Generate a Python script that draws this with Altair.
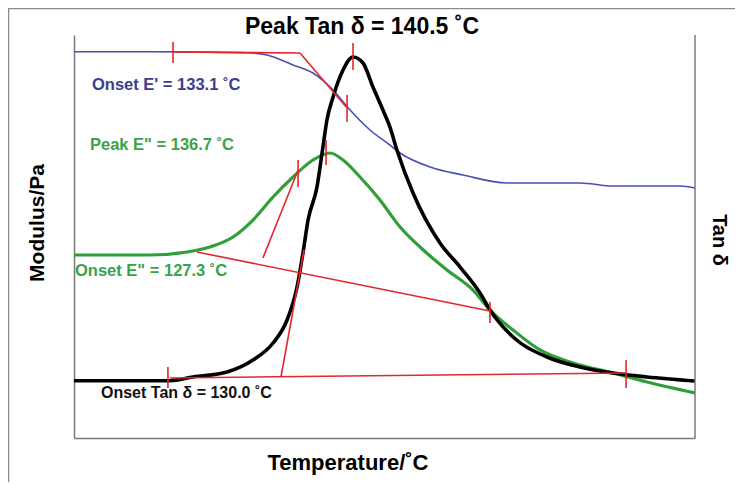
import altair as alt
import pandas as pd

# ---------------- data ----------------
# Temperature (deg C) and signal in arbitrary units (0-100)
eprime_T = [124.5, 128.84, 131.70, 134.39, 135.53, 137.02, 138.16, 139.31, 140.28,
            141.42, 142.56, 143.14, 144.85, 146.74, 149.25, 153.43, 155.31, 159.14, 160.0]
eprime_Y = [95.86, 95.86, 95.78, 95.6, 95.04, 92.56, 90.57, 86.35, 81.39,
            76.43, 72.70, 70.72, 67.25, 65.26, 63.28, 63.28, 62.53, 62.53, 62.03]

edouble_T = [124.5, 128.84, 130.96, 132.27, 133.59, 134.73, 135.88, 137.02, 138.16,
             139.13, 139.88, 140.85, 141.99, 143.14, 144.28, 145.82, 147.31, 148.28,
             149.60, 151.14, 153.03, 155.31, 157.26, 160.0]
edouble_Y = [45.41, 45.41, 46.15, 47.39, 49.88, 54.09, 59.80, 64.76, 68.98,
             70.72, 68.98, 64.76, 59.06, 52.36, 47.39, 41.69, 36.72, 31.76,
             26.80, 21.84, 18.61, 16.13, 13.90, 11.17]

tand_T = [124.5, 129.99, 131.30, 133.25, 134.73, 135.88, 136.68, 137.25, 137.59,
          137.88, 138.39, 138.73, 138.96, 139.31, 139.88, 140.45, 141.02, 141.59,
          142.16, 142.56, 142.96, 143.88, 145.42, 146.57, 147.71, 148.28, 149.60,
          151.54, 153.43, 155.31, 157.26, 160.0]
tand_Y = [14.22, 14.22, 15.14, 16.38, 19.35, 23.57, 29.28, 37.47, 45.91,
          54.09, 62.28, 72.21, 78.91, 84.62, 91.32, 94.54, 93.05, 87.1,
          81.39, 77.17, 71.46, 60.79, 48.39, 42.43, 35.98, 31.76, 25.06,
          20.10, 17.62, 16.13, 15.14, 14.14]

# red construction (tangent) lines: two points each
seg_id = ["e1", "e1", "e2", "e2", "g1", "g1", "g2", "g2", "t1", "t1", "t2", "t2"]
seg_T = [130.16, 137.42, 137.42, 140.11, 131.53, 148.28, 135.30, 137.31,
         129.99, 156.11, 136.33, 137.65]
seg_Y = [95.78, 95.53, 95.53, 81.89, 46.15, 31.51, 44.67, 66.5,
         14.89, 16.13, 15.14, 46.65]

# red marker ticks
tick_T = [130.16, 140.11, 140.45, 137.31, 138.91, 148.28, 129.87, 156.06]
tick_Y1 = [98.26, 85.11, 98.0, 68.98, 73.95, 33.75, 17.62, 19.35]
tick_Y2 = [93.05, 78.41, 91.32, 62.28, 67.74, 28.54, 12.41, 12.41]

title_text = "Peak Tan δ = 140.5 ˚C"
xlabel = "Temperature/˚C"
ylabel_left = "Modulus/Pa"
ylabel_right = "Tan δ"
lab_onset_e1 = "Onset E' = 133.1 ˚C"
lab_peak_e2 = 'Peak E" = 136.7 ˚C'
lab_onset_e2 = 'Onset E" = 127.3 ˚C'
lab_onset_tan = "Onset Tan δ = 130.0 ˚C"

# ---------------- chart ----------------
W, H = 621, 403
FONT = "Liberation Sans"
RED = "#e3272b"
FRAME = "#7a7a7a"

xs = alt.Scale(domain=[124.5, 160.0], nice=False, zero=False)
ys = alt.Scale(domain=[0, 100], nice=False, zero=False)
ax = alt.Axis(title="", labels=False, ticks=False, grid=False,
              domainColor=FRAME, domainWidth=1.5)


def curve(T, Y, color, width):
    df = pd.DataFrame({"T": T, "Y": Y})
    return alt.Chart(df).mark_line(color=color, strokeWidth=width,
                                   interpolate="monotone", clip=True).encode(
        x=alt.X("T:Q", scale=xs, axis=ax),
        y=alt.Y("Y:Q", scale=ys, axis=ax),
    )


blue = curve(eprime_T, eprime_Y, "#4a50b2", 1.6)
green = curve(edouble_T, edouble_Y, "#2f9f38", 3.2)
black = curve(tand_T, tand_Y, "#000000", 3.6)

segs = alt.Chart(pd.DataFrame({"id": seg_id, "T": seg_T, "Y": seg_Y})).mark_line(
    color=RED, strokeWidth=1.6).encode(
    x=alt.X("T:Q", scale=xs, axis=ax),
    y=alt.Y("Y:Q", scale=ys, axis=ax),
    detail="id:N",
)

ticks = alt.Chart(pd.DataFrame({"T": tick_T, "Y1": tick_Y1, "Y2": tick_Y2})).mark_rule(
    color=RED, strokeWidth=1.6).encode(
    x=alt.X("T:Q", scale=xs, axis=ax),
    y=alt.Y("Y1:Q", scale=ys, axis=ax),
    y2="Y2:Q",
)

one = pd.DataFrame({"a": [0]})


def rule(x1, x2, y1, y2, color, width):
    return alt.Chart(one).mark_rule(color=color, strokeWidth=width).encode(
        x=alt.value(x1), x2=alt.value(x2), y=alt.value(y1), y2=alt.value(y2))


right_frame = rule(W, W, 0, H, FRAME, 1.5)
outer_top = rule(-66, 661, -26.5, -26.5, "#8a8a8a", 1.5)
outer_left = rule(-65.5, -65.5, -27, 447, "#8a8a8a", 1.5)


def label(text, x, y, size, color="#000000", align="left", angle=0):
    kw = dict(font=FONT, fontWeight="bold", fontSize=size, color=color,
              align=align, baseline="middle")
    if angle:
        kw["angle"] = angle
    return alt.Chart(pd.DataFrame({"t": [text]})).mark_text(**kw).encode(
        text="t:N", x=alt.value(x), y=alt.value(y))


texts = [
    label(title_text, 288, -8, 23, align="center"),
    label(xlabel, 274, 428, 22, align="center"),
    label(ylabel_left, -36, 188, 21, align="center", angle=270),
    label(ylabel_right, 645, 205, 20, align="center", angle=90),
    label(lab_onset_e1, 18, 50, 16.5, color="#3b3d92"),
    label(lab_peak_e2, 16, 110, 16.5, color="#38a347"),
    label(lab_onset_e2, 1, 236, 16.5, color="#38a347"),
    label(lab_onset_tan, 27, 358, 16, color="#111111"),
]

chart = alt.layer(
    blue, green, black, segs, ticks, right_frame, outer_top, outer_left, *texts
).properties(
    width=W, height=H,
    autosize=alt.AutoSizeParams(type="none"),
    padding={"left": 66, "top": 27, "right": 40, "bottom": 44},
    background="white",
).configure_view(stroke=None)

chart.save("out.html", embed_options={"renderer": "svg", "actions": False})
